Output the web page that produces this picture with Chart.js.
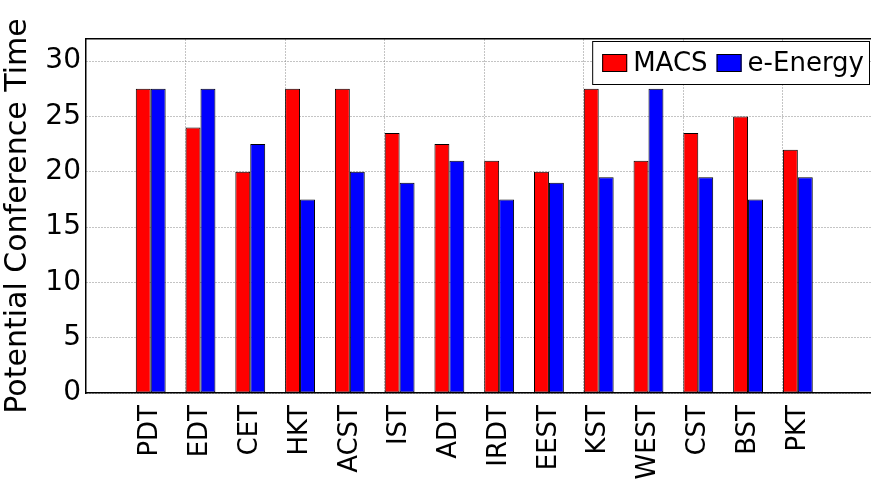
<!DOCTYPE html>
<html>
<head>
<meta charset="utf-8">
<script src="https://cdn.jsdelivr.net/npm/chart.js@4/dist/chart.umd.min.js"></script>
<style>
  html, body { margin: 0; padding: 0; background: #fff; }
  #wrap { width: 871px; height: 481px; }
</style>
</head>
<body>
<div id="wrap"><canvas id="c" width="871" height="481"></canvas></div>
<script>
const categories = ["PDT","EDT","CET","HKT","ACST","IST","ADT","IRDT","EEST","KST","WEST","CST","BST","PKT"];
const macs =    [27.5, 24, 20, 27.5, 27.5, 23.5, 22.5, 21, 20, 27.5, 21, 23.5, 25, 22];
const eEnergy = [27.5, 27.5, 22.5, 17.5, 20, 19, 21, 17.5, 19, 19.5, 27.5, 19.5, 17.5, 19.5];
const yTicks = [0, 5, 10, 15, 20, 25, 30];
const gridX = [2, 4, 6, 8, 10, 12, 14];
const yTitle = "Potential Conference Time";

const FONT = "'DejaVu Sans', sans-serif";
const groupPos = (i) => i + 1.3;

const legendBox = {
  id: 'legendBox',
  afterDraw(chart) {
    const ctx = chart.ctx;
    const area = chart.chartArea;
    ctx.save();
    ctx.font = "26px " + FONT;
    const sw = 25, sh = 18, padL = 10, padR = 6, gapT = 6, gapItem = 9;
    const items = chart.data.datasets.map(d => ({label: d.label, color: d.backgroundColor}));
    let w = padL;
    items.forEach((it, k) => {
      w += sw + gapT + ctx.measureText(it.label).width;
      if (k < items.length - 1) w += gapItem;
    });
    w += padR;
    const h = 44;
    const left = area.right - 1 - w;
    const top = area.top + 2;
    ctx.fillStyle = '#fff';
    ctx.fillRect(left, top, w, h);
    ctx.strokeStyle = '#000';
    ctx.lineWidth = 1;
    ctx.strokeRect(left + 0.5, top + 0.5, w - 1, h - 1);
    let x = left + padL;
    const cy = top + h / 2;
    items.forEach(it => {
      ctx.fillStyle = it.color;
      ctx.fillRect(x, cy - sh / 2, sw, sh);
      ctx.strokeStyle = '#000';
      ctx.strokeRect(x + 0.5, cy - sh / 2 + 0.5, sw - 1, sh - 1);
      x += sw + gapT;
      ctx.fillStyle = '#000';
      ctx.textBaseline = 'middle';
      ctx.textAlign = 'left';
      ctx.fillText(it.label, x, cy + 1);
      x += ctx.measureText(it.label).width + gapItem;
    });
    ctx.restore();
  }
};

new Chart(document.getElementById('c'), {
  type: 'bar',
  data: {
    datasets: [
      { label: 'MACS', data: macs.map((v, i) => ({x: groupPos(i), y: v})),
        backgroundColor: '#ff0000', borderColor: '#000', borderWidth: 1, borderSkipped: false,
        categoryPercentage: 0.6, barPercentage: 1.0 },
      { label: 'e-Energy', data: eEnergy.map((v, i) => ({x: groupPos(i), y: v})),
        backgroundColor: '#0000ff', borderColor: '#000', borderWidth: 1, borderSkipped: false,
        categoryPercentage: 0.6, barPercentage: 1.0 }
    ]
  },
  options: {
    responsive: false,
    animation: false,
    layout: { padding: { top: 39, right: 0, left: 0, bottom: 0 } },
    plugins: { legend: { display: false }, tooltip: { enabled: false } },
    scales: {
      x: {
        type: 'linear', min: 0, max: 15.77, position: 'bottom', offset: false,
        afterBuildTicks: (s) => { s.ticks = categories.map((c, i) => ({value: groupPos(i)})); },
        afterFit: (s) => { s.height = 88; },
        ticks: {
          autoSkip: false, maxRotation: 90, minRotation: 90, padding: 12,
          font: { family: FONT, size: 26 }, color: '#000',
          callback: (v, idx) => categories[idx]
        },
        grid: { display: false, drawTicks: false, offset: false },
        border: { display: true, color: '#000', width: 1.5 }
      },
      x2: {
        type: 'linear', min: 0, max: 15.77, position: 'top', offset: false,
        afterBuildTicks: (s) => { s.ticks = gridX.map(v => ({value: v})); },
        ticks: { display: false },
        grid: { display: true, drawTicks: false, offset: false, color: '#888', lineWidth: 1 },
        border: { display: true, color: '#000', width: 1.5, dash: [1, 2] }
      },
      y: {
        min: 0, max: 32,
        afterBuildTicks: (s) => { s.ticks = yTicks.map(v => ({value: v})); },
        afterFit: (s) => { s.width = 86; },
        ticks: { padding: 5, font: { family: FONT, size: 28 }, color: '#000' },
        grid: { display: true, drawTicks: false, color: '#888', lineWidth: 1 },
        border: { display: true, color: '#000', width: 1.5, dash: [1, 2] },
        title: { display: true, text: yTitle, font: { family: FONT, size: 30 }, color: '#000', padding: { top: 0, bottom: 4 } }
      }
    }
  },
  plugins: [legendBox]
});
</script>
</body>
</html>
